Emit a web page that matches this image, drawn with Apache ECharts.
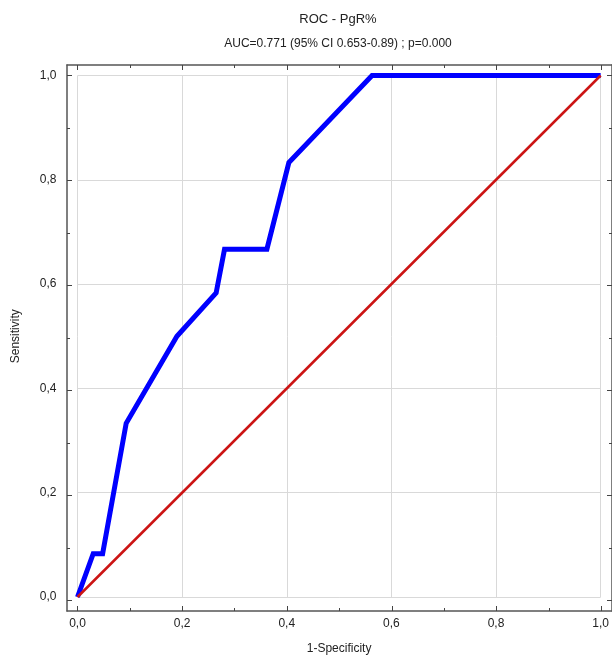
<!DOCTYPE html>
<html>
<head>
<meta charset="utf-8">
<script src="https://cdn.jsdelivr.net/npm/echarts@6/dist/echarts.min.js"></script>
<style>html,body{margin:0;padding:0;background:#fff}#c{width:612px;height:660px}</style>
</head>
<body>
<div id="c"></div>
<script>
// Data
const rocX = [0, 0.03, 0.048, 0.093, 0.19, 0.265, 0.281, 0.362, 0.404, 0.563, 1.0];
const rocY = [0, 0.083, 0.083, 0.333, 0.5, 0.583, 0.667, 0.667, 0.833, 1.0, 1.0];
const refX = [0, 1];
const refY = [0, 1];
const majorTicks = [0, 0.2, 0.4, 0.6, 0.8, 1.0];
const minorTicks = [0.1, 0.3, 0.5, 0.7, 0.9];
const titleText = 'ROC - PgR%';
const subtitleText = 'AUC=0.771 (95% CI 0.653-0.89) ; p=0.000';
const xName = '1-Specificity';
const yName = 'Sensitivity';

// Layout
const FL = 67, FT = 65, FW = 547, FH = 546;
const ext = 0.02;
const padX = FW * ext / (1 + 2 * ext), padY = FH * ext / (1 + 2 * ext);
const font = 'Liberation Sans, Arial, sans-serif';
const fmt = v => v.toFixed(1).replace('.', ',');

const chart = echarts.init(document.getElementById('c'), null, {renderer: 'canvas'});
const frameLine = {show: true, onZero: false, lineStyle: {color: '#555', width: 1.5}};
const noLine = {show: false, onZero: false};
const majTick = {show: true, inside: true, length: 5, customValues: majorTicks, lineStyle: {color: '#444', width: 1}};
const minTick = {show: true, inside: true, length: 3, customValues: minorTicks, lineStyle: {color: '#444', width: 1}};

function frameAxes(gi, line, tick) {
  const base = {gridIndex: gi, type: 'value', min: -ext, max: 1 + ext, axisLine: line, axisTick: tick, axisLabel: {show: false}, splitLine: {show: false}};
  return {
    x: [Object.assign({position: 'bottom'}, base), Object.assign({position: 'top'}, base)],
    y: [Object.assign({position: 'left'}, base), Object.assign({position: 'right'}, base)]
  };
}
const f0 = frameAxes(0, frameLine, majTick);
const f2 = frameAxes(2, noLine, minTick);

const frameGrid = {left: FL, top: FT, width: FW, height: FH, containLabel: false};

chart.setOption({
  animation: false,
  backgroundColor: '#fff',
  title: [
    {text: titleText, left: 333, top: 8, textAlign: 'center', textStyle: {fontFamily: font, fontSize: 13, fontWeight: 'normal', color: '#222'}},
    {text: subtitleText, left: 333, top: 33, textAlign: 'center', textStyle: {fontFamily: font, fontSize: 12, fontWeight: 'normal', color: '#222'}}
  ],
  grid: [
    frameGrid,
    {left: FL + padX, top: FT + padY, width: FW - 2 * padX, height: FH - 2 * padY, containLabel: false},
    Object.assign({}, frameGrid)
  ],
  xAxis: [
    f0.x[0], f0.x[1],
    {gridIndex: 1, type: 'value', position: 'bottom', min: 0, max: 1, interval: 0.2,
      axisLine: {show: false}, axisTick: {show: false},
      axisLabel: {margin: 21, formatter: fmt, color: '#222', fontFamily: font, fontSize: 12},
      splitLine: {show: true, lineStyle: {color: '#d9d9d9', width: 1}},
      name: xName, nameLocation: 'middle', nameGap: 46,
      nameTextStyle: {color: '#222', fontFamily: font, fontSize: 12}},
    f2.x[0], f2.x[1]
  ],
  yAxis: [
    f0.y[0], f0.y[1],
    {gridIndex: 1, type: 'value', position: 'left', min: 0, max: 1, interval: 0.2,
      axisLine: {show: false}, axisTick: {show: false},
      axisLabel: {margin: 21, formatter: fmt, color: '#222', fontFamily: font, fontSize: 12},
      splitLine: {show: true, lineStyle: {color: '#d9d9d9', width: 1}},
      name: yName, nameLocation: 'middle', nameGap: 56,
      nameTextStyle: {color: '#222', fontFamily: font, fontSize: 12}},
    f2.y[0], f2.y[1]
  ],
  series: [
    {type: 'line', xAxisIndex: 2, yAxisIndex: 2, data: rocX.map((x, i) => [x, rocY[i]]),
      showSymbol: false, symbol: 'none', lineStyle: {color: '#0000ff', width: 5, join: 'miter'}, z: 3},
    {type: 'line', xAxisIndex: 2, yAxisIndex: 2, data: refX.map((x, i) => [x, refY[i]]),
      showSymbol: false, symbol: 'none', lineStyle: {color: '#cc1414', width: 2.5}, z: 4}
  ]
});
</script>
</body>
</html>
